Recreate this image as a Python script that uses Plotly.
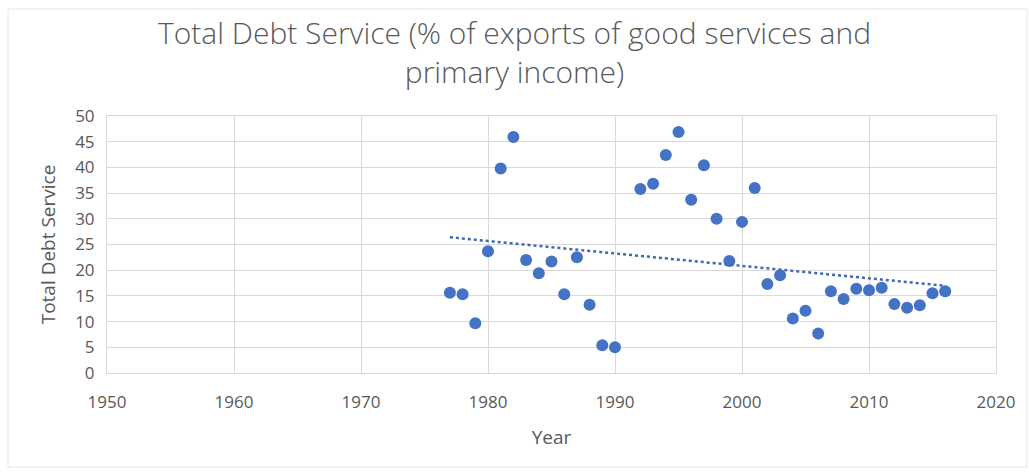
import numpy as np
import plotly.graph_objects as go

# Total debt service, % of exports of goods, services and primary income
years = [1977, 1978, 1979, 1980, 1981, 1982, 1983, 1984, 1985, 1986, 1987, 1988,
         1989, 1990, 1992, 1993, 1994, 1995, 1996, 1997, 1998, 1999, 2000, 2001,
         2002, 2003, 2004, 2005, 2006, 2007, 2008, 2009, 2010, 2011, 2012, 2013,
         2014, 2015, 2016]
debt_service = [15.6, 15.3, 9.7, 23.7, 39.8, 45.9, 22.0, 19.4, 21.7, 15.3, 22.5, 13.3,
                5.4, 5.0, 35.8, 36.8, 42.4, 46.9, 33.7, 40.4, 30.0, 21.8, 29.4, 36.0,
                17.3, 19.0, 10.6, 12.1, 7.7, 15.9, 14.4, 16.4, 16.1, 16.6, 13.4, 12.7,
                13.2, 15.5, 15.9]

x_ticks = [1950, 1960, 1970, 1980, 1990, 2000, 2010, 2020]
y_ticks = [0, 5, 10, 15, 20, 25, 30, 35, 40, 45, 50]

# Linear trend line over the observed span
slope, intercept = np.polyfit(years, debt_service, 1)
trend_x = [min(years), max(years)]
trend_y = [slope * x + intercept for x in trend_x]

BLUE = "#4472C4"
TEXT = "#595959"
GRID = "#D9D9D9"
FONT = "Open Sans"

fig = go.Figure()
fig.add_trace(go.Scatter(
    x=years, y=debt_service, mode="markers",
    marker=dict(size=12, color=BLUE, line=dict(width=0)),
    showlegend=False,
))
fig.add_trace(go.Scatter(
    x=trend_x, y=trend_y, mode="lines",
    line=dict(color="#3F68B5", width=2.5, dash="dot"),
    showlegend=False,
))

W, H = 1029, 474
ml, mr, mt, mb = 107, 33, 116, 101
pw, ph = W - ml - mr, H - mt - mb

def px_x(p):
    return (p - ml) / pw

def px_y(p):
    return (H - mb - p) / ph

fig.update_layout(
    width=W, height=H,
    margin=dict(l=ml, r=mr, t=mt, b=mb),
    paper_bgcolor="white", plot_bgcolor="white",
    font=dict(family=FONT, color=TEXT),
    title=dict(
        text="Total Debt Service (% of exports of good services and<br>primary income)",
        x=0.5, xanchor="center", y=1 - 44 / H, yanchor="middle",
        font=dict(family=FONT, size=30, color=TEXT, weight=300),
    ),
    xaxis=dict(
        range=[1950, 2020], tickvals=x_ticks, ticks="",
        showgrid=True, gridcolor=GRID, gridwidth=1,
        showline=True, linecolor=GRID, linewidth=1, mirror=True,
        zeroline=False, ticklabelstandoff=14,
        tickfont=dict(family=FONT, size=17, color=TEXT),
        title=dict(text="Year", font=dict(family=FONT, size=19, color=TEXT), standoff=18),
    ),
    yaxis=dict(
        range=[0, 50], tickvals=y_ticks, ticks="",
        showgrid=True, gridcolor=GRID, gridwidth=1,
        showline=True, linecolor=GRID, linewidth=1, mirror=True,
        zeroline=False, ticklabelstandoff=8,
        tickfont=dict(family=FONT, size=17, color=TEXT),
        title=dict(text="Total Debt Service", font=dict(family=FONT, size=19, color=TEXT), standoff=14),
    ),
    shapes=[dict(
        type="rect", xref="paper", yref="paper",
        x0=px_x(8), x1=px_x(1027), y0=px_y(467), y1=px_y(9),
        line=dict(color="#E6E6E6", width=1), fillcolor="rgba(0,0,0,0)", layer="below",
    )],
)

fig.write_html("out.html")
